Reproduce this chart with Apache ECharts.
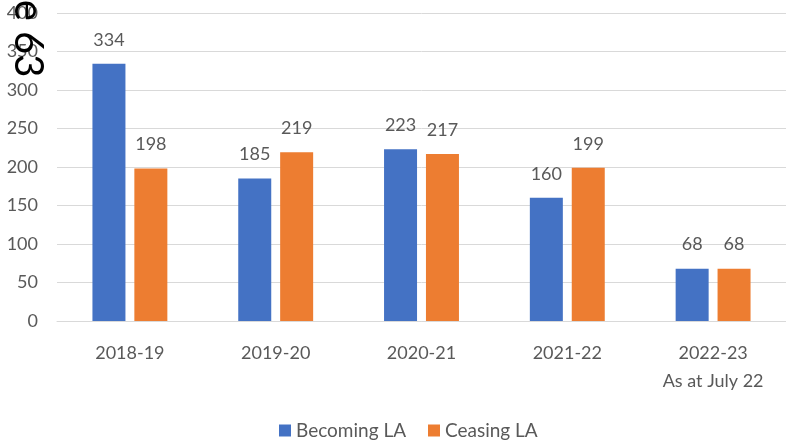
<!DOCTYPE html>
<html>
<head>
<meta charset="utf-8">
<script src="https://cdn.jsdelivr.net/npm/echarts@6/dist/echarts.min.js"></script>
<style>
  html, body { margin: 0; padding: 0; background: #fff; }
  #chart { width: 786px; height: 442px; }
</style>
</head>
<body>
<div id="chart"></div>
<script>
// Academic years shown on the x axis
const categories = ['2018-19', '2019-20', '2020-21', '2021-22', '2022-23\nAs at July 22'];
// Children becoming / ceasing to be looked after
const becomingLA = [334, 185, 223, 160, 68];
const ceasingLA = [198, 219, 217, 199, 68];
const seriesNames = ['Becoming LA', 'Ceasing LA'];
const yTicks = [0, 50, 100, 150, 200, 250, 300, 350, 400];

const font = 'Lato, "Open Sans", sans-serif';
const chart = echarts.init(document.getElementById('chart'));

const labelStyle = {
  show: true,
  position: 'top',
  distance: 15,
  color: '#595959',
  fontSize: 18,
  fontFamily: font
};

chart.setOption({
  animation: false,
  grid: { left: 57, right: -3, top: 13, bottom: 121 },
  legend: {
    data: seriesNames,
    top: 416,
    left: 274,
    itemWidth: 12,
    itemHeight: 12,
    itemGap: 22,
    icon: 'rect',
    textStyle: { color: '#595959', fontSize: 19, fontFamily: font }
  },
  xAxis: {
    type: 'category',
    data: categories,
    axisLine: { show: true, lineStyle: { color: '#d9d9d9', width: 1 } },
    axisTick: { show: false },
    axisLabel: { color: '#595959', fontSize: 18, fontFamily: font, margin: 18, lineHeight: 28 }
  },
  yAxis: {
    type: 'value',
    min: yTicks[0],
    max: yTicks[yTicks.length - 1],
    interval: 50,
    axisLine: { show: false },
    axisTick: { show: false },
    axisLabel: { color: '#595959', fontSize: 18, fontFamily: font, margin: 19 },
    splitLine: { lineStyle: { color: '#d9d9d9', width: 1 } }
  },
  series: [
    {
      name: seriesNames[0],
      type: 'bar',
      data: becomingLA,
      barWidth: 33,
      barGap: '27%',
      itemStyle: { color: '#4472C4' },
      label: labelStyle
    },
    {
      name: seriesNames[1],
      type: 'bar',
      data: ceasingLA,
      barWidth: 33,
      itemStyle: { color: '#ED7D31' },
      label: labelStyle
    }
  ],
  graphic: [
    {
      type: 'text',
      x: 48,
      y: -64,
      rotation: -Math.PI / 2,
      style: {
        text: 'Page 63',
        fill: '#000',
        fontSize: 40,
        fontFamily: font
      },
      z: 100
    }
  ]
});
</script>
</body>
</html>
